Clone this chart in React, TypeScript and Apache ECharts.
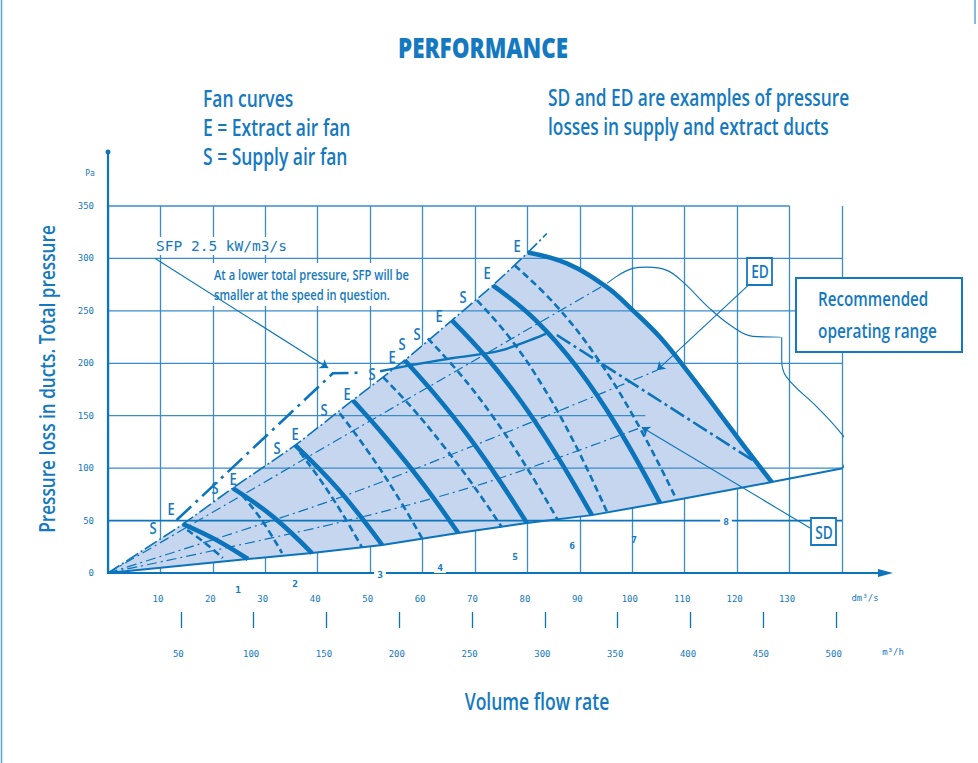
import React, { useEffect, useRef } from "react";
import * as echarts from "echarts";

// ---------- tick values ----------
const flowTicks = [10, 20, 30, 40, 50, 60, 70, 80, 90, 100, 110, 120, 130];
const pressureTicks = [0, 50, 100, 150, 200, 250, 300, 350];
const m3hTicks = [50, 100, 150, 200, 250, 300, 350, 400, 450, 500];
// horizontal grid rows: [pressure, from flow, to flow]
const pressureRows = [[50, 0, 140], [100, 0, 140], [150, 0, 102.5], [200, 0, 140], [250, 0, 140], [300, 0, 140], [350, 0, 130]];

// ---------- fan curves: [flow dm3/s, pressure Pa] ----------
const E1 = [[14.3, 46.7], [20.5, 32], [26.7, 13.3]];
const E2 = [[23.8, 81], [31.4, 54], [38.9, 19]];
const E3 = [[35.7, 121.9], [44, 79.3], [52.3, 26.7]];
const E4 = [[46.7, 164.8], [53.3, 127.4], [60.2, 84.3], [66.8, 38.1]];
const E5 = [[56.6, 202.9], [62.4, 170.1], [68.3, 133.3], [74.1, 92.4], [79.9, 47.6]];
const E6 = [[65.6, 241], [72.3, 205], [79, 162.1], [85.6, 112.2], [92.3, 55.2]];
const E7 = [[73.4, 274.3], [81.4, 241.9], [89.4, 196.5], [97.3, 138.1], [105.3, 66.7]];
const E8 = [[80.1, 305.7], [87.5, 295.2], [95.2, 272.4], [100.1, 250.5], [105.3, 224.8], [110.4, 193.3], [116.2, 155.2], [121.9, 117.1], [126.6, 86.7]];

const S1 = [[15.1, 41], [18.5, 28.7], [21.9, 14.3]];
const S2 = [[25.6, 74.3], [29.4, 49.9], [33.2, 19]];
const S3 = [[36.6, 115.2], [40.5, 88.8], [44.5, 58.2], [48.4, 24.8]];
const S4 = [[44.2, 152.4], [49.4, 117.4], [54.7, 77.2], [59.9, 33.3]];
const S5 = [[52.5, 186.7], [58.2, 156.3], [63.8, 122.3], [69.5, 84.8], [75.1, 43.8]];
const S6 = [[61, 223.8], [67.2, 189.5], [73.4, 149.2], [79.6, 102.8], [85.8, 50.5]];
const S7 = [[70.4, 260], [76.6, 224.5], [82.8, 179.1], [89, 123.6], [95.2, 58.1]];
const S8 = [[77.6, 293.3], [85.3, 256], [93.1, 206.4], [100.8, 144.2], [108.5, 69.5]];

const eCurves = [E1, E2, E3, E4, E5, E6, E7, E8];
const sCurves = [S1, S2, S3, S4, S5, S6, S7, S8];

// ---------- boundaries & auxiliary lines ----------
const upperBoundary = [[0, 0], [14.3, 46.7], [23.8, 81], [35.7, 121.9], [46.7, 164.8], [56.6, 202.9], [65.6, 241], [73.4, 274.3], [80.1, 305.7], [83.7, 323.8]];
const lowerBoundary = [[0, 0], [26.7, 13.3], [38.9, 19], [52.3, 26.7], [66.8, 38.1], [79.9, 47.6], [92.3, 55.2], [105.3, 66.7], [126.6, 86.7], [140.2, 100]];

const sfpSteep = [[13.1, 50.5], [42.9, 190.5], [48.1, 191]];
const sfpShallow = [[51.9, 192.4], [57.6, 198], [65.8, 205], [74.8, 212], [83.5, 228]];
const sfpFalling = [[85.6, 227], [124.4, 103]];

const rangeRay = [[0, 0], [95.2, 276.2]];
const rangeOutline = [[95.2, 276.2], [100.1, 290.5], [102.8, 291.7], [106.6, 288.6], [109.7, 277.4], [114.8, 252.1], [119.2, 234.6], [123, 225.7], [128.5, 224.5], [128.5, 202.9], [129.4, 187], [135.2, 158.4], [139.6, 134.6], [140.8, 123.8], [140.6, 107.6], [140.2, 100]];
const edCurve = [[0, 0], [42, 68], [72, 126], [104.7, 193.3]];
const sdCurve = [[0, 0], [44, 48], [72, 86], [101.8, 139]];

const sfpNoteArrow = [[9, 300], [42, 195.5]];
const edArrow = [[122.1, 274.3], [104.7, 193.3]];
const sdArrow = [[133.9, 42.9], [101.8, 139]];

// ---------- styles ----------
const BLUE = "#1479c0";
const LINE = "#0b74bb";
const GRID = "#3a8cca";
const SHADE = "#c5d6ee";
const COND = "'Open Sans',sans-serif";
const MONO = "'DejaVu Sans Mono','Liberation Mono',monospace";

function lineSeries(data: number[][], width: number, type: any, smooth: number | boolean = 0.3, z = 3, color = LINE) {
  return {
    type: "line",
    data,
    showSymbol: false,
    symbol: "none",
    smooth,
    clip: false,
    silent: true,
    z,
    lineStyle: { color, width, type, cap: "butt" },
  };
}

function txt(text: string, x: number, y: number, size: number, opts: any = {}) {
  return {
    type: "text",
    x,
    y,
    z: opts.z ?? 10,
    rotation: opts.rotation ?? 0,
    scaleX: opts.sx ?? 1,
    style: {
      text,
      fontSize: size,
      fontFamily: opts.family ?? COND,
      fontWeight: opts.weight ?? 600,
      fill: opts.color ?? BLUE,
      align: opts.align ?? "left",
      verticalAlign: "middle",
      textAlign: opts.align ?? "left",
      textVerticalAlign: "middle",
      backgroundColor: opts.bg,
      padding: opts.pad,
    },
  };
}

export default function App() {
  const ref = useRef<HTMLDivElement>(null);

  useEffect(() => {
    const chart = echarts.init(ref.current!, null, { renderer: "svg" });

    const shadePoly = [
      ...upperBoundary.slice(0, 9),
      ...E8.slice(1),
      ...lowerBoundary.filter((p) => p[0] < 126.6).reverse(),
    ];

    const series: any[] = [
      {
        type: "custom",
        silent: true,
        z: 1,
        clip: false,
        data: [[0, 0]],
        renderItem: (_p: any, api: any) => ({
          type: "polygon",
          shape: { points: shadePoly.map((pt) => api.coord(pt)) },
          style: { fill: SHADE, stroke: "none" },
        }),
      },
      ...pressureRows.map((r) =>
        lineSeries([[r[1], r[0]], [r[2], r[0]]], r[0] === 50 ? 1.7 : 1.3, "solid", false, 2, r[0] === 50 ? LINE : GRID)
      ),
      lineSeries(lowerBoundary, 2, "solid", false),
      lineSeries(upperBoundary, 1.6, [14, 3, 2, 3], 0.2),
      lineSeries(rangeRay, 1.2, [10, 4, 2, 4], false),
      lineSeries(rangeOutline, 1.1, "solid", 0.4),
      lineSeries(edCurve, 1.2, [10, 4, 2, 4], 0.3),
      lineSeries(sdCurve, 1.2, [10, 4, 2, 4], 0.3),
      lineSeries(sfpSteep, 2.6, [20, 6, 3, 6], false),
      lineSeries(sfpShallow, 2.4, "solid", 0.3),
      lineSeries(sfpFalling, 2.6, [16, 4, 3, 4], false),
      ...sCurves.map((c) => lineSeries(c, 2.6, [7, 4], 0.4, 4)),
      ...eCurves.map((c) => lineSeries(c, 4.6, "solid", 0.4, 5)),
      {
        type: "lines",
        coordinateSystem: "cartesian2d",
        silent: true,
        z: 6,
        symbol: ["none", "arrow"],
        symbolSize: 8,
        lineStyle: { color: LINE, width: 1.1, curveness: 0, opacity: 1 },
        data: [{ coords: sfpNoteArrow }, { coords: edArrow }, { coords: sdArrow }],
      },
    ];

    const SX = 0.76;
    const graphic: any[] = [
      // frame
      { type: "line", shape: { x1: 1.5, y1: 0, x2: 1.5, y2: 763 }, style: { stroke: "#5ea3d8", lineWidth: 1.5 } },
      { type: "line", shape: { x1: 975, y1: 0, x2: 975, y2: 24 }, style: { stroke: "#5ea3d8", lineWidth: 1.5 } },
      // axes
      { type: "line", z: 8, shape: { x1: 108, y1: 573, x2: 884, y2: 573 }, style: { stroke: LINE, lineWidth: 2.2 } },
      { type: "polygon", z: 8, shape: { points: [[878, 569], [893, 573], [878, 577]] }, style: { fill: LINE } },
      { type: "line", z: 8, shape: { x1: 108, y1: 574, x2: 108, y2: 152 }, style: { stroke: LINE, lineWidth: 2.2 } },
      { type: "circle", z: 8, shape: { cx: 108, cy: 152, r: 2.5 }, style: { fill: LINE } },
      // white areas behind notes
      { type: "rect", z: 3, shape: { x: 152, y: 237, width: 146, height: 18 }, style: { fill: "#fff" } },
      { type: "rect", z: 3, shape: { x: 210, y: 263, width: 202, height: 43 }, style: { fill: "#fff" } },
      // boxes
      { type: "rect", z: 9, shape: { x: 796, y: 278, width: 166, height: 74 }, style: { fill: "#fff", stroke: BLUE, lineWidth: 2 } },
      { type: "rect", z: 9, shape: { x: 747, y: 258, width: 25, height: 27 }, style: { fill: "#fff", stroke: BLUE, lineWidth: 1.8 } },
      { type: "rect", z: 9, shape: { x: 811, y: 518, width: 25, height: 27 }, style: { fill: "#fff", stroke: BLUE, lineWidth: 1.8 } },
      // texts
      txt("PERFORMANCE", 483, 47, 28, { align: "center", weight: 800, sx: 0.8 }),
      txt("Fan curves", 203, 98, 23, { sx: SX }),
      txt("E = Extract air fan", 203, 127, 23, { sx: SX }),
      txt("S = Supply air fan", 203, 156, 23, { sx: SX }),
      txt("SD and ED are examples of pressure", 548, 98, 22.5, { sx: 0.77 }),
      txt("losses in supply and extract ducts", 548, 127, 22.5, { sx: 0.77 }),
      txt("Pressure loss in ducts. Total pressure", 47, 379, 21.5, { align: "center", rotation: Math.PI / 2, sx: 0.8 }),
      txt("Volume flow rate", 537, 701, 22.5, { align: "center", sx: 0.78 }),
      txt("Recommended", 818, 298, 20, { z: 11, sx: SX }),
      txt("operating range", 818, 330, 20, { z: 11, sx: 0.77 }),
      txt("ED", 760, 271, 18, { align: "center", z: 11, sx: SX }),
      txt("SD", 824, 532, 18, { align: "center", z: 11, sx: SX }),
      txt("SFP 2.5 kW/m3/s", 156, 246, 14.5, { family: MONO, weight: "normal" }),
      txt("At a lower total pressure, SFP will be", 214, 274, 14.3, { z: 11, sx: 0.78 }),
      txt("smaller at the speed in question.", 214, 294, 14.3, { z: 11, sx: 0.78 }),
      txt("Pa", 90, 173, 8, { family: MONO, align: "center", weight: "normal" }),
      txt("dm\u00b3/s", 865, 598, 9, { family: MONO, align: "center", weight: "normal" }),
      txt("m\u00b3/h", 893, 652, 9, { family: MONO, align: "center", weight: "normal" }),
      // speed numbers
      txt("1", 238, 589, 9.5, { family: MONO, weight: "bold", align: "center" }),
      txt("2", 295, 583, 9.5, { family: MONO, weight: "bold", align: "center" }),
      txt("3", 380, 574, 9.5, { family: MONO, weight: "bold", align: "center", bg: "#fff", pad: [1, 3], z: 12 }),
      txt("4", 440, 567, 9.5, { family: MONO, weight: "bold", align: "center", bg: "#fff", pad: [1, 3], z: 12 }),
      txt("5", 515, 556, 9.5, { family: MONO, weight: "bold", align: "center" }),
      txt("6", 572, 545, 9.5, { family: MONO, weight: "bold", align: "center" }),
      txt("7", 634, 539, 9.5, { family: MONO, weight: "bold", align: "center" }),
      txt("8", 726, 521, 9.5, { family: MONO, weight: "bold", align: "center", bg: "#fff", pad: [1, 3], z: 12 }),
      // curve labels
      ...[
        ["S", 153, 527], ["E", 171, 508], ["S", 215, 487], ["E", 233, 478],
        ["S", 277, 447], ["E", 295, 433], ["S", 324, 409], ["E", 347, 393],
        ["S", 372, 373], ["E", 392, 356], ["S", 402, 343], ["S", 417, 333],
        ["E", 439, 315], ["S", 463, 296], ["E", 487, 272], ["E", 517, 245],
      ].map((l: any) => txt(l[0], l[1], l[2], 17, { align: "center", z: 11, sx: SX })),
    ];

    chart.setOption({
      animation: false,
      backgroundColor: "#ffffff",
      grid: { left: 108, right: 136, top: 206, bottom: 190, containLabel: false },
      xAxis: [
        {
          type: "value",
          min: 0,
          max: 140,
          interval: 10,
          axisLine: { show: false },
          axisTick: { show: false },
          splitLine: { show: true, lineStyle: { color: GRID, width: 1.3 } },
          axisLabel: {
            color: BLUE,
            fontFamily: MONO,
            fontSize: 9,
            margin: 21,
            padding: [0, 5, 0, 0],
            formatter: (v: number) => (flowTicks.includes(v) ? String(v) : ""),
          },
        },
        {
          type: "value",
          min: 0,
          max: 504,
          interval: 50,
          position: "bottom",
          offset: 39,
          axisLine: { show: false },
          splitLine: { show: false },
          axisTick: { show: true, length: 16, customValues: m3hTicks, lineStyle: { color: LINE, width: 1.3 } },
          axisLabel: {
            customValues: m3hTicks,
            color: BLUE,
            fontFamily: MONO,
            fontSize: 9,
            margin: 37,
            padding: [0, 5, 0, 0],
            formatter: (v: number) => (m3hTicks.includes(v) ? String(v) : ""),
          },
        },
      ],
      yAxis: {
        type: "value",
        min: 0,
        max: 350,
        interval: 50,
        axisLine: { show: false },
        axisTick: { show: false },
        splitLine: { show: false },
        axisLabel: {
          color: BLUE,
          fontFamily: MONO,
          fontSize: 9,
          margin: 14,
          padding: [8, 0, 0, 0],
          formatter: (v: number) => (pressureTicks.includes(v) ? String(v) : ""),
        },
      },
      series,
      graphic,
    });

    return () => chart.dispose();
  }, []);

  return (
    <div
      ref={ref}
      style={{ position: "fixed", left: 0, top: 0, width: 978, height: 763, background: "#fff" }}
    />
  );
}
